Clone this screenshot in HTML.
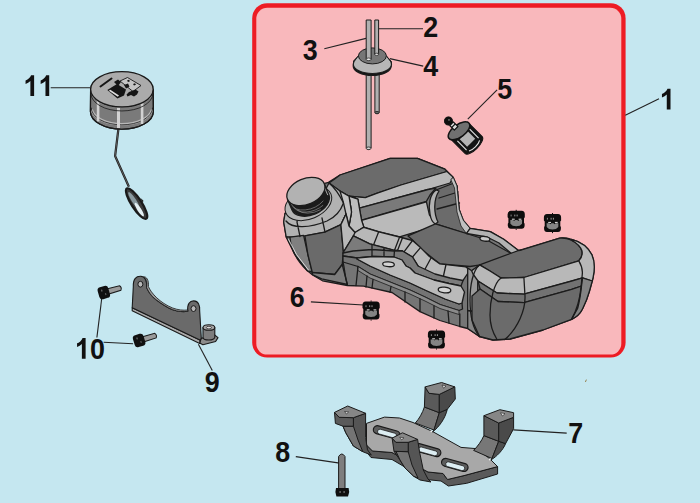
<!DOCTYPE html>
<html><head><meta charset="utf-8">
<style>
html,body{margin:0;padding:0;background:#c5e7f0;}
body{width:700px;height:503px;overflow:hidden;font-family:"Liberation Sans",sans-serif;}
svg{display:block}
.lb{font-family:"Liberation Sans",sans-serif;font-weight:bold;font-size:28.6px;fill:#111;}
.ld{stroke:#222;stroke-width:1.1;fill:none}
</style></head><body>
<svg width="700" height="503" viewBox="0 0 700 503">
<rect x="0" y="0" width="700" height="503" fill="#c5e7f0"/>
<!-- BOX -->
<rect x="252.2" y="3.2" width="373.4" height="354.4" rx="15" ry="15" fill="#ed1c24"/>
<rect x="256.3" y="7.8" width="365" height="346.8" rx="11" ry="11" fill="#f9b8bc"/>
<!-- LEADERS -->
<g class="ld">
<line x1="50.7" y1="87.8" x2="90" y2="87.8"/>
<line x1="378.8" y1="28.8" x2="423" y2="28.8"/>
<line x1="324.3" y1="48.8" x2="366" y2="38.4"/>
<line x1="389.8" y1="58.6" x2="423.2" y2="66.1"/>
<line x1="497.1" y1="89.8" x2="467.8" y2="119.1"/>
<line x1="625.3" y1="115.2" x2="659" y2="98.8"/>
<line x1="310.9" y1="301.9" x2="363.6" y2="305"/>
<line x1="96.9" y1="337.5" x2="101.7" y2="298.6"/>
<line x1="103.6" y1="342.3" x2="133.1" y2="343.7"/>
<line x1="198.4" y1="344.2" x2="212.3" y2="370.5"/>
<line x1="513.4" y1="429.9" x2="566.7" y2="433.1"/>
<line x1="295.8" y1="456.6" x2="339.7" y2="463.1"/>
</g>
<!-- PARTS -->
<g id="parts">
<!--tank-->
<g id="tank" stroke="#1c1c1c" stroke-width="1.3" stroke-linejoin="round" stroke-linecap="round">
<!-- silhouette -->
<path fill="#757575" d="M285,213.5 L283.7,222 L286,236 L289,242.5 L296.3,256 L308.3,271.6 L313,275.2 L322.5,280.8 L347.4,285.5 L363.6,286.1 L392,292.5 L420,311.6 L439.9,320.5 L459.8,326.5 L467.7,328.5 L479.5,336.5 L493,340 L510,339 L543,330 L571.6,319.3 Q579,316 582.5,309 Q587,300 589.5,291 L593.1,277.5 Q596,264 591.9,254.8 Q586,243 571.6,239.3 Q565,237.3 559.7,238.1 L518.5,250.5 L503.7,239.2 L490.3,231.6 L470.1,228.4 L463.4,220.4 L459.2,209.6 L456.9,185.8 L453.3,177.4 L444.9,169.1 L417.5,158.3 L390.1,158.3 L340,175 L328.5,182.4 L300,190 Z"/>

<!-- ===== back block ===== -->
<!-- top face -->
<path fill="#6b6b6b" d="M329,183 L334,179.5 L340,175 L390.1,158.3 L417.5,158.3 L444.9,169.1 L447,171.5 L401,185 L377.3,193.2 L365.3,197.7 L349,196.2 L340,191 Z"/>
<!-- light band (rounded edge) -->
<path fill="#b8b8b8" d="M349,196.2 L365.3,197.7 L377.3,193.2 L401,185 L447,171.5 L453.3,177.4 L450,183 L428,189.5 L359.4,208.1 L357.9,199.2 Z"/>
<!-- dark band -->
<path fill="#7a7a7a" d="M359.4,208.1 L428,189.5 L436,188 L430,195 L426.4,201.4 L361.6,220 Z"/>
<!-- slope in front of block (light) -->
<path fill="#bababa" d="M361.6,220.4 L426.4,201.8 L429.4,214.8 L436.9,225.6 L399.6,236.8 L378.7,231.6 L363.8,227 Z"/>
<!-- block left rounded corner -->
<path fill="#bcbcbc" d="M349,196.2 L357.9,199.2 L359.4,208.1 L361.6,220.4 L363.8,227 L355,232.5 L349,226 L351.5,212 Z"/>
<!-- notch at right end of block : dark recess -->
<path fill="#6b6b6b" d="M436,190 L454,183 L457,186 L459.2,209.6 L466.4,233.5 L435.4,223.9 L431,205 Z"/>
<path fill="#b2b2b2" d="M436,190 C430,194 428,205 430,214 C431,220 433,223 435.4,223.9 L438,222 C434,214 433,200 439,191 Z"/>
<path fill="none" d="M439,198 L458,192 M437,209 L459.5,203"/>
<path fill="#c0c0c0" stroke-width="0.8" d="M453.3,177.4 L456.9,185.8 L459.2,209.6 L463.4,220.4 L470.1,228.4 L466.4,233.5 L461,226 L457,212 L454.5,188 L451,180 Z"/>

<!-- ===== saddle (dark top between block and lobe) ===== -->
<path fill="#6b6b6b" d="M408,235.9 L435.4,223.9 L466.4,233.5 L487,240 L512,254 L482.2,264.7 L470,266.5 L440,264 L423,250.5 L412.5,240 Z"/>
<!-- saddle right rim (light) -->
<path fill="#b2b2b2" d="M466.4,233.5 L470.1,228.4 L490.3,231.6 L503.7,239.2 L518.5,250.5 L512,254 L499,243 L487,237 Z"/>
<ellipse cx="484.9" cy="238.8" rx="5" ry="2.3" fill="#c8c8c8" transform="rotate(8 484.9 238.8)"/>

<!-- ===== head (left) ===== -->
<!-- shoulder/collar light -->
<path fill="#b2b2b2" d="M285,213.5 L283.7,222 L286.2,237 L289.9,237.1 L304.9,235.9 L324.8,232.2 L340.9,224.7 L346,214 L349,226 L351.5,212 L349,196.2 L340,191 L329,183 L320,200 L300,210 Z"/>
<path fill="#c2c2c2" d="M340,191 L349,196.2 L351.5,212 L349,226 L346,214 L343.5,203 Z"/>
<!-- left face -->
<path fill="#808080" d="M286.2,237 L289.9,237.1 L303.6,235.4 L308,255 L312.3,272 L307.3,270.7 L294.9,254.6 Z"/>
<!-- front face -->
<path fill="#6a6a6a" d="M304.9,235.9 L324.8,232.2 L340.9,224.7 L343.4,252.1 L342.2,264.5 L334.7,274.5 L312.3,272.5 L308,255 Z"/>
<!-- under head -->
<path fill="#7c7c7c" d="M312.3,272.5 L334.7,274.5 L342.2,264.5 L347.4,284.5 L321.7,278.9 L312.3,274.5 Z"/>
<path fill="none" d="M300,236.5 L297,222 L299,212 M325,232 L322,218 M289.9,237.1 C291,250 298,262 307.3,270.7 M340.9,224.7 L346,214 M286,221 C292,229 310,228 327,221 C336,217 341,210 343.5,203 M329,183 C335,188 340,196 343.5,203"/>
<path fill="none" stroke="#e2e2e2" stroke-width="0.9" d="M288.6,239.5 L296.6,254.6 L308.6,270.2"/>
<!-- neck -->
<g transform="rotate(-23 305.9 191.5)">
<ellipse cx="303.5" cy="203.5" rx="24.5" ry="15.5" fill="#b4b4b4" stroke-width="1"/>
<path fill="#1b1b1b" d="M285.9,191.5 L285.9,203 A20,12.8 0 0 0 325.9,203 L325.9,191.5 Z"/>
<path fill="none" stroke="#9a9a9a" stroke-width="0.55" d="M287.5,197.5 A19,12 0 0 0 318,207 M288.5,201 A19,12 0 0 0 316,211 M291,205.5 A19,12 0 0 0 312,214"/>
<path fill="none" stroke="#d0d0d0" stroke-width="0.7" d="M324.6,193 L324.6,203"/>
<ellipse cx="305.9" cy="191.5" rx="20" ry="12.8" fill="#b2b2b2" stroke-width="1.3"/>
</g>
<!-- ===== ridge (light snake) ===== -->
<path fill="#b8b8b8" d="M346,214 L349,226 L355,232.5 L363.8,227.3 L378.7,231.8 L399.6,237 L412.5,240.5 L420.5,247.6 L429.4,256.5 L439.9,263.9 L465.7,266.9 L470,270 L462.7,280.8 L449.8,278.8 L435.9,276.8 L420,268.9 L412.5,257 L402.1,250.8 L393.6,250.2 L369.8,243.9 L353.4,235.9 L343.4,252.1 L340.9,224.7 Z"/>
<path fill="none" d="M378.7,231.8 L373.5,245 M399.6,237 L394.5,250.2 M402.5,237.8 L397.5,250.5 M412.5,240.5 L404,251.8 M420.5,247.6 L412.5,257 M431,258 L424,271 M446,264.5 L443,278 M355,232.5 L353.4,235.9"/>
<!-- wall below ridge -->
<path fill="#7b7b7b" d="M343,253 L353.4,235.9 L369.8,243.9 L393.6,250.2 L402.1,250.8 L412.5,257 L418,266 L435,274 L450,278 L463,280.5 L461,286 L449,283.5 L434,280 L415,273 L410,268 L406,266 L402,260 L394,257 L373,256.5 L357,258 L343,256 Z"/>
<path fill="none" d="M343,253 L353,251 L372,249.5 L394,251 L402.1,250.8 M372,244.5 L372,256.5 M384,247.5 L384,256.8 M394.5,250.3 L394,257"/>
<!-- flange front edge -->
<path fill="#747474" d="M343,256 L357,258 L357,259 L370,266 L390,275 L410,283 L425,290 L445,299 L459,304 L462,303 L462.5,309 L459,310.5 L440,304.5 L425,297 L410,290 L390,282 L370,274 L358,266.5 L343,262 Z"/>
<!-- flange -->
<path fill="#bababa" d="M357,258 L373,256.5 L394,257 L402,260 L406,266 L410,268 L415,273 L434,280 L449,283.5 L461,286 L464.5,292 L462,303 L459,304 L445,299 L425,290 L410,283 L390,275 L370,266 L357,259 Z"/>
<ellipse cx="388.5" cy="264.3" rx="5.8" ry="2.4" fill="#d4d4d4" stroke-width="1.3" transform="rotate(4 388.5 264.3)"/>
<ellipse cx="444.5" cy="290" rx="6.3" ry="2.8" fill="#d4d4d4" stroke-width="1.3" transform="rotate(6 444.5 290)"/>
<!-- lower body strip + lines -->
<path fill="#8a8a8a" stroke-width="0.8" d="M358,266.5 L370,274 L390,282 L410,290 L425,297 L440,304.5 L459,310.5 L459,314.5 L440,308.5 L425,301 L410,294 L390,286 L370,278 L358,270.5 Z"/>
<path fill="none" d="M358,266.5 L356,285.5 M367,276 L366,287 M373,279.5 L372,288 M391,286.5 L390,292 M405,292 L405,302 M420,299 L420,311.6 M434,306 L434,318 M448,311 L449,323 M459.8,314 L459.8,326.5 M343,262 C345,270 345,278 347.4,284.5"/>

<!-- lobe left rounded end -->
<path fill="#999999" d="M467.7,268 L471.7,270.8 L477.7,266.5 L477.7,300 L476,312 L467.7,310.5 Z"/>
<path fill="#858585" d="M467.7,310.5 L476,312 L477.7,330 L479.5,336.5 L467.7,328.5 Z"/>
<!-- ===== right lobe ===== -->
<!-- top face -->
<path fill="#6b6b6b" d="M479.6,264.9 L518.5,250.5 L521.5,250 L559.7,238.1 Q566,237.6 571,240 Q580,244.5 582,251 Q583,256.5 578.8,260.8 L523.9,277.5 L501,278 L490,271 Z"/>
<!-- light band -->
<path fill="#b8b8b8" d="M471.7,270.8 L479.6,264.9 L490,271 L501,278 L523.9,277.5 L578.8,260.8 Q583,256.5 582,251 Q580,244.5 571,240 L571.6,239.3 Q586,243 591.9,254.8 Q596,264 593.1,277.5 L592.3,281 L582.5,277.8 L571.6,281 L523.9,294.2 L497,293 L478,281 L473,274 Z"/>
<!-- mid dark band -->
<path fill="#727272" d="M478,281 L497,293 L523.9,294.2 L571.6,281 L582.5,277.8 L581.5,286 L571.6,289.4 L523.9,302.6 L498,301.5 L480,289 Z"/>
<!-- front face -->
<path fill="#6b6b6b" d="M480,289 L498,301.5 L523.9,302.6 L571.6,289.4 L581.5,286 Q580,300 577.6,308.5 L571.6,319.3 L543,330 L510,339 L493,340 L479.5,336.5 L472,320 L472,296 Z"/>
<path fill="#838383" d="M582.5,277.8 L592.3,281 L589.5,291 Q587,300 582.5,309 Q579,316 571.6,319.3 L577.6,308.5 Q580,300 581.5,286 Z"/>
<path fill="none" d="M523.9,277.5 L525,296 C525.5,310 518,328 504.8,339.6 M578.8,260.8 C582,266 582.5,272 582.3,274 L581.1,287 C580,298 577.6,308.5 571.6,319.3 M501,278 C494,283 490,300 490,315 C490,325 493,333 497,339.5 M479.6,264.9 C473,270 470,285 470,300 C470,318 474,330 479.5,336.5"/>
</g>

<!--bush-->
<defs>
<g id="bu">
<path fill="#0d0d0d" d="M-5.5,-9 L5.5,-9 Q8.6,-8.6 8.6,-5.5 L8.6,-2.5 L7.8,-1.5 L7.8,3 L8.4,4 L8.4,6 Q8.2,8.8 5.5,9 L-5.5,9 Q-8.2,8.8 -8.4,6 L-8.4,4 L-7.8,3 L-7.8,-1.5 L-8.6,-2.5 L-8.6,-5.5 Q-8.6,-8.6 -5.5,-9 Z"/>
<path fill="#848484" d="M-5.9,0.2 L-3,0.2 L-2.2,1.2 L-1,0.2 L1,0.2 L2.2,1.2 L3,0.2 L5.9,0.2 L5.8,4 Q4,6.5 0,6.5 Q-4,6.5 -5.8,4 Z"/>
<rect x="-4.3" y="-1.1" width="2.8" height="1" fill="#e6e6e6"/>
<rect x="2.4" y="-1.1" width="2.8" height="1" fill="#e6e6e6"/>
<rect x="-5.6" y="-5.2" width="1" height="1.8" fill="#8a8a8a"/>
<rect x="-1.9" y="-5.2" width="1" height="1.8" fill="#9a9a9a"/>
<rect x="0.4" y="-5.2" width="1" height="1.8" fill="#9a9a9a"/>
<rect x="-0.5" y="-10" width="1" height="1.2" fill="#0d0d0d"/>
<rect x="-0.5" y="9" width="1" height="1.1" fill="#0d0d0d"/>
</g>
</defs>
<use href="#bu" x="516.2" y="219.8"/>
<use href="#bu" x="552.5" y="223"/>
<use href="#bu" x="371.1" y="310.5"/>
<use href="#bu" x="436.5" y="339.4"/>

<!--tubes-->
<g id="tubes" stroke="#1c1c1c" stroke-width="1" stroke-linejoin="round">
<!-- lower tube segments -->
<path fill="#b0b0b0" d="M366.2,70 L366.2,148 Q368.6,151 371.1,148 L371.1,70 Z"/>
<ellipse cx="368.6" cy="148.3" rx="2.4" ry="1.3" fill="#d8d8d8" stroke-width="0.8"/>
<path fill="#b0b0b0" d="M374.9,70 L374.9,112.5 Q377,115 379.2,112.5 L379.2,70 Z"/>
<ellipse cx="377" cy="112.6" rx="2.1" ry="1.2" fill="#6a6a6a" stroke-width="0.8"/>
<!-- grommet body -->
<ellipse cx="372.2" cy="66" rx="19" ry="9.4" fill="#141414" stroke-width="1.2"/>
<path fill="#b6b6b6" d="M358.4,55.9 L353.5,61 A19.3,9.3 0 0 0 391.3,64.5 L391.5,62 L386.3,55.9 Z" />
<ellipse cx="372.4" cy="64.2" rx="19.1" ry="9.3" fill="#b6b6b6" stroke-width="1.2"/>
<path fill="#b6b6b6" stroke="none" d="M358.4,56 L354.2,62 L390.6,62 L386.3,56 Z"/>
<path fill="none" d="M358.4,55.9 L353.6,62 M386.3,55.9 L391.2,62"/>
<ellipse cx="372.4" cy="55.9" rx="14" ry="8" fill="#767676"/>
<!-- upper tubes -->
<path fill="#b0b0b0" d="M366.2,20 L366.2,59.2 L371.1,59.2 L371.1,20 Z"/>
<ellipse cx="368.6" cy="59.3" rx="2.4" ry="1.3" fill="#ececec" stroke-width="0.7"/>
<path fill="#b0b0b0" d="M374.8,20 L374.8,54.2 L378.6,54.2 L378.6,20 Z"/>
<ellipse cx="376.7" cy="54.3" rx="1.9" ry="1.1" fill="#ececec" stroke-width="0.7"/>
</g>

<!--filter-->
<g id="filter" transform="translate(458.8,131) rotate(45)" stroke="#111" stroke-width="1" stroke-linejoin="round">
<!-- body -->
<path fill="#141414" d="M0,-12.6 L20.5,-12.6 A4.6,12 0 0 1 20.5,11.4 L0,11.4 Z"/>
<rect x="6.5" y="-6.2" width="10.5" height="11.4" fill="#b4b4b4" stroke="none"/>
<path fill="none" stroke="#e4e4e4" stroke-width="1.1" d="M6,-9 L19,-9 M6,8 L19,8 M21.4,-8 A3,8.5 0 0 1 21.4,7"/>
<!-- disc -->
<ellipse cx="0" cy="-0.3" rx="6.2" ry="12.6" fill="#707070" stroke-width="1.5" transform="rotate(9)"/>
<!-- neck -->
<rect x="-10.3" y="-2.5" width="6.5" height="5" fill="#dcdcdc" stroke-width="1.2"/>
<path fill="none" stroke="#111" stroke-width="1.2" d="M-7.5,-2.5 L-7.5,2.5"/>
<!-- nub -->
<circle cx="-14.4" cy="0.2" r="4" fill="#0e0e0e"/>
<circle cx="-14.8" cy="-0.9" r="0.9" fill="#777" stroke="none"/>
</g>

<!--cap-->
<g id="cap" stroke="#1a1a1a" stroke-width="1.2" stroke-linejoin="round">
<!-- tether -->
<path fill="none" stroke="#1a1a1a" stroke-width="2.2" d="M118.4,129 L115.1,156 L128.9,186.7"/>
<path fill="none" stroke="#999" stroke-width="0.5" d="M118.4,129 L115.1,156 L128.9,186.7"/>
<g transform="translate(136.6,203.6) rotate(57)">
<ellipse cx="0" cy="0" rx="18" ry="5" fill="#3a3a3a" stroke-width="2.2"/>
<ellipse cx="-4" cy="0.6" rx="10" ry="2.2" fill="#8a9aa0" stroke="none"/>
<ellipse cx="6.5" cy="1" rx="8" ry="1.9" fill="#e4f0f4" stroke="none"/>
<path d="M-3,-6.2 L1,-7.4 L3,-5.6" fill="#222" stroke="none"/>
</g>
<!-- side -->
<path fill="#7a7a7a" d="M90.6,89.5 L90.4,111.5 A31.4,17.7 0 0 0 153.4,111.5 L153.2,89.5 Z"/>
<!-- bottom rim -->
<path fill="none" stroke="#b8b8b8" stroke-width="2.6" d="M91.6,109.5 A30.6,17.2 0 0 0 152.2,109.5"/>
<path fill="none" stroke="#1a1a1a" stroke-width="0.8" d="M91.2,107.6 A30.6,17.2 0 0 0 152.6,107.6"/>
<!-- ribs -->
<g stroke="none" fill="#d2d2d2">
<rect x="96.8" y="100" width="2.6" height="21.5"/>
<rect x="117" y="106" width="3" height="22"/>
<rect x="140.8" y="102" width="2.6" height="22"/>
</g>
<!-- top chamfer -->
<path fill="none" stroke="#c6c6c6" stroke-width="3" d="M91.4,91.5 A30.8,17.4 0 0 0 152.4,91.5"/>
<path fill="none" stroke="#1a1a1a" stroke-width="0.8" d="M91,93.5 A30.8,17.4 0 0 0 152.8,93.5"/>
<!-- redraw outline of side -->
<path fill="none" d="M90.6,89.5 L90.4,111.5 A31.4,17.7 0 0 0 153.4,111.5 L153.2,89.5"/>
<!-- top -->
<ellipse cx="121.9" cy="89.3" rx="31.3" ry="17.7" fill="#ababab" stroke-width="1.4"/>
<!-- icon -->
<path fill="none" stroke="#151515" stroke-width="2" stroke-linecap="round" d="M100.5,86.5 L111.5,78.5"/>
<path fill="#c4c4c4" stroke="#151515" stroke-width="0.9" d="M120,81 L127.5,77.5 L141,85.5 L133,91.5 Z"/>
<path fill="#151515" stroke="none" d="M107.3,90 L117,84 L126,89.5 L124,95.5 L117.5,98.5 Z"/>
<path fill="#dedede" stroke="none" d="M108.8,90.8 L110.3,89.8 L119,95.6 L117.8,96.8 Z"/>
<path fill="#151515" stroke="none" d="M114,82 L118,79.5 L121,82 L118,86 Z M124,85 L128,83.5 L129.5,86.5 L126,88.5 Z M127,80.5 L129,79.8 L130,81.3 L128,82 Z M133,84 L135,83.3 L136,84.8 L134,85.5 Z"/>
<path fill="#151515" stroke="none" d="M129,92 L133,90.5 L135.5,89.5 L138.5,91.5 L137,94.5 L134,96.5 L131,95 L127.5,96.5 L126.5,94.5 Z"/>
</g>

<!--bracket9-->
<g id="bracket9" stroke="#1a1a1a" stroke-width="1.1" stroke-linejoin="round">
<!-- base plate right end -->
<path fill="#8c8c8c" d="M201.3,338.4 L214,334.5 L218,337.6 L215.6,341.5 L202.9,344.7 L199.7,343.1 Z"/>
<!-- bottom flange strip -->
<path fill="#a9a9a9" d="M132.2,307.8 L199.9,340 L199.7,343.4 L132.2,310.8 Z"/>
<!-- main face with ears -->
<path fill="#6a6a6a" d="M133.3,286.7 C133,279 136,276.2 140.6,276.3 C145,276.4 147.2,281 146.6,287.5 C149.5,294 153,297.5 156.8,300.2 C162,304 167,307.5 172.7,309.7 C178,311.6 183,312 187.8,311.3 C187,304 189.8,300.8 193.8,300.9 C198,301 200.2,305 199.7,311.3 L201.3,338.4 L199.9,340 L132.2,307.8 Z"/>
<!-- ear edge highlight (thickness) -->
<path fill="#9a9a9a" stroke-width="0.8" d="M146.6,287.5 C147.5,282 146.5,278.5 143.5,276.8 C146.5,276.5 149,280 148.4,286.5 C151,293 160,303 172.7,308 C178,310 183,310.5 187.8,310 L187.8,311.3 C183,312 178,311.6 172.7,309.7 C167,307.5 162,304 156.8,300.2 C153,297.5 149.5,294 146.6,287.5 Z"/>
<ellipse cx="140.4" cy="284.2" rx="2.5" ry="2.9" fill="#b8b8b8" stroke-width="1"/>
<ellipse cx="193.5" cy="308.6" rx="2.5" ry="2.9" fill="#b8b8b8" stroke-width="1"/>
<!-- boss -->
<path fill="#7d7d7d" d="M203,327.5 L203,337.2 A5.9,2.8 0 0 0 214.8,337.2 L214.8,327.5 Z"/>
<ellipse cx="208.9" cy="327.5" rx="5.9" ry="2.8" fill="#a5a5a5"/>
<ellipse cx="208.9" cy="327.6" rx="2.6" ry="1.3" fill="#dcdcdc" stroke-width="0.7"/>
</g>

<!--bolts10-->
<defs>
<g id="b10">
<path fill="#9a9a9a" stroke="#1a1a1a" stroke-width="1" d="M3,-2.6 L16.5,-2.2 Q18.5,0 16.5,2.6 L3,2.8 Z"/>
<rect x="-6" y="-6.2" width="11" height="12.4" rx="3.2" ry="3.2" fill="#101010"/>
<rect x="-2.5" y="-3.5" width="1.2" height="2" fill="#6a6a6a"/>
<rect x="0.3" y="1" width="1.2" height="2" fill="#5a5a5a"/>
</g>
</defs>
<use href="#b10" transform="translate(104.3,292.4) rotate(-16)"/>
<use href="#b10" transform="translate(139.6,340.3) rotate(-17)"/>

<!--bracket7-->
<g id="bracket7" stroke="#1a1a1a" stroke-width="1" stroke-linejoin="round">
<!-- plate thickness -->
<path fill="#5a5a5a" d="M366.5,445 L372.5,451 L392,452.5 L428,472 L443,473.5 L447.5,479.5 L464,475.6 L497.6,466.6 L497.6,474 L466.7,483.3 L448.4,486 L441,481 L426,479.5 L392,459.5 L371,457.5 L365,450 Z"/>
<!-- plate top -->
<path fill="#a8a8a8" d="M366.5,423.4 L384.5,417.1 L399.5,418 L413,422.5 L432.5,431.5 L461,447.4 L476,448.6 L489.5,458.5 L497.6,466.6 L464,475.6 L447.5,479.5 L443,473.5 L428,472 L392,452.5 L372.5,451 L366.5,445 Z"/>
<!-- slots -->
<g id="slot7">
<g transform="translate(386.6,432.3) rotate(15.5)">
<rect x="-13.6" y="-4" width="27.2" height="8" rx="4" ry="4" fill="#5c5c5c" stroke-width="1.2"/>
<rect x="-9" y="-1.3" width="19.5" height="4.9" rx="2.4" ry="2.4" fill="#dcedf2" stroke-width="0.7"/>
</g>
</g>
<use href="#slot7" x="41" y="17.8"/>
<use href="#slot7" x="68.2" y="32.6"/>

<!-- back post -->
<path fill="#777" d="M424.4,407 L439.3,412.7 L434,430 L415.3,423 C419,419 422.5,413 424.4,407 Z"/>
<path fill="#4e4e4e" d="M439.3,412.7 L447.3,409.3 C445,419 439,427 432.4,432.1 L434,430 Z"/>
<path fill="#5a5a5a" d="M425.1,386.9 L429,393.3 L439.3,394.4 L439.3,412.7 L424.4,407 Z"/>
<path fill="#4a4a4a" d="M439.3,394.4 L454.8,386.9 L455.3,399 L447.3,409.3 L439.3,412.7 Z"/>
<path fill="#868686" d="M425.1,386.9 L441.6,382.5 L454.8,386.9 L439.3,394.4 L429,393.3 Z"/>
<path fill="#e8e8e8" stroke-width="0.6" d="M442,385 L446,386 L443.6,388.2 Z"/>
<circle cx="431.3" cy="431.3" r="1" fill="#eee" stroke="none"/>

<!-- right post -->
<path fill="#777" d="M483.9,435.6 L498.7,441.3 L492,458.5 L473.6,450.4 C478,446 481.5,441 483.9,435.6 Z"/>
<path fill="#4e4e4e" d="M498.7,441.3 L505.6,443.6 C503,450 497,456.5 490.7,460 L492,458.5 Z"/>
<path fill="#5a5a5a" d="M483.9,415.7 L498.7,423 L498.7,441.3 L483.9,435.6 Z"/>
<path fill="#4a4a4a" d="M498.7,423 L513.6,417.3 L513.6,428.7 L505.6,443.6 L498.7,441.3 Z"/>
<path fill="#868686" d="M483.9,415.7 L499.9,409.7 L513.6,412.7 L513.6,417.3 L498.7,423 Z"/>
<path fill="#e8e8e8" stroke-width="0.6" d="M500.5,412.8 L505,413.6 L502.5,416 Z"/>
<circle cx="489.8" cy="459.6" r="1" fill="#eee" stroke="none"/>

<!-- left post -->
<path fill="#555" d="M353.4,417.7 L365.6,413.3 L365.6,437.5 L367.5,449.8 L371.3,455.1 L362.8,451.7 L353.4,446 L345.8,432.8 L343,426.2 L353.4,426.2 Z"/>
<path fill="#747474" d="M343,426.2 L353.4,426.2 L358,440 L362.8,451.7 L353.4,446 L345.8,432.8 Z"/>
<path fill="#5a5a5a" d="M334.5,412.4 L339.2,417.3 L353.4,417.7 L353.4,426.2 L343,426.2 L335.4,423.4 Z"/>
<path fill="#868686" d="M334.5,412.4 L347.7,406 L365.6,413.3 L353.4,417.7 L339.2,417.3 Z"/>
<path fill="#e8e8e8" stroke-width="0.6" d="M344.6,411.4 L348.6,412 L346.4,414 Z"/>

<!-- front post -->
<path fill="#555" d="M394,451.3 L408.2,451.7 L408.2,442.3 L417.6,439.4 L419.5,451.7 L423.3,470 L428,479 L431,482 L420,480 L413.8,476.3 L405,468 L400,460 Z"/>
<path fill="#747474" d="M396,451.4 L408.2,451.7 L412,465 L418,478 L413.8,476.3 L405,468 L400,460 Z"/>
<path fill="#5a5a5a" d="M392.1,438.1 L395.9,442.3 L408.2,442.3 L408.2,451.7 L394,451.3 Z"/>
<path fill="#868686" d="M392.1,438.1 L402.5,432.8 L417.6,439.4 L408.2,442.3 L395.9,442.3 Z"/>
<path fill="#e8e8e8" stroke-width="0.6" d="M399.8,437.2 L404,437.8 L401.6,439.8 Z"/>
</g>

<!--bolt8-->
<g id="bolt8" stroke="#1a1a1a" stroke-width="1" stroke-linejoin="round">
<path fill="#7e7e7e" d="M338.6,488.5 L338.6,456.5 Q341.8,451.5 345,456.5 L345,488.5 Z"/>
<path fill="#0f0f0f" stroke="none" d="M336,488 L348.6,488 L349.2,492 L348,496.6 L336.4,496.6 L335.4,492 Z"/>
<rect x="339.5" y="491" width="1.2" height="2" fill="#777" stroke="none"/>
<rect x="343.5" y="491" width="1.2" height="2" fill="#777" stroke="none"/>
</g>

<!--misc-->
<path d="M585.4,382 L586.4,379.6" stroke="#8a6a2a" stroke-width="0.8" fill="none"/>


</g>
<!-- LABELS -->
<defs><path id="one" d="M806 0H525V1059Q371 915 162 846V1101Q272 1137 401 1237.5T578 1472H806V0Z" transform="scale(0.01329,-0.01406)"/></defs>

<g class="lb">
<use href="#one" x="23.4" y="96"/><use href="#one" x="38.5" y="96"/>
<text id="t2" transform="translate(423.20,37.20) scale(0.94,1)">2</text>
<text id="t3" transform="translate(302.70,59.50) scale(0.94,1)">3</text>
<text id="t4" transform="translate(423.20,75.90) scale(0.94,1)">4</text>
<text id="t5" transform="translate(497.20,99.30) scale(0.94,1)">5</text>
<use href="#one" x="659.8" y="109.5"/>
<text id="t6" transform="translate(289.70,307.10) scale(0.94,1)">6</text>
<use href="#one" x="74.9" y="358.8"/><text id="t10" transform="translate(89.9,359.10) scale(0.94,1)">0</text>
<text id="t9" transform="translate(204.70,392.10) scale(0.94,1)">9</text>
<text id="t7" transform="translate(568.20,442.50) scale(0.94,1)">7</text>
<text id="t8" transform="translate(275.20,462.10) scale(0.94,1)">8</text>
</g>
</svg>
</body></html>
